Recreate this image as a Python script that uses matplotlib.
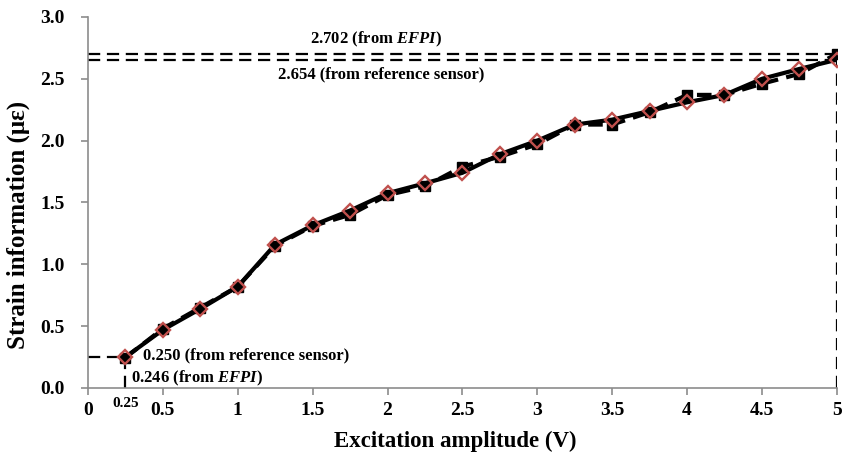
import numpy as np
import matplotlib
matplotlib.use("Agg")
import matplotlib.pyplot as plt

plt.rcParams['font.family'] = ['Liberation Serif', 'DejaVu Serif']
plt.rcParams['font.weight'] = 'bold'
plt.rcParams['mathtext.fontset'] = 'custom'
plt.rcParams['mathtext.rm'] = 'Liberation Serif:bold'
plt.rcParams['mathtext.it'] = 'Liberation Serif:bold:italic'

# excitation amplitude (V)
amplitude = [0.25, 0.5, 0.75, 1.0, 1.25, 1.5, 1.75, 2.0, 2.25, 2.5,
             2.75, 3.0, 3.25, 3.5, 3.75, 4.0, 4.25, 4.5, 4.75, 5.0]
# strain from EFPI (black squares, dashed)
strain_efpi = [0.246, 0.48, 0.65, 0.82, 1.15, 1.31, 1.40, 1.56, 1.63, 1.79,
               1.87, 1.97, 2.13, 2.13, 2.23, 2.37, 2.37, 2.46, 2.54, 2.702]
# strain from reference sensor (red diamonds, solid)
strain_ref = [0.250, 0.47, 0.64, 0.82, 1.16, 1.315, 1.435, 1.575, 1.655, 1.74,
              1.89, 2.00, 2.13, 2.17, 2.24, 2.31, 2.37, 2.50, 2.58, 2.654]

xticks = [0, 0.5, 1, 1.5, 2, 2.5, 3, 3.5, 4, 4.5, 5]
xticklabels = ['0', '0.5', '1', '1.5', '2', '2.5', '3', '3.5', '4', '4.5', '5']
yticks = [0.0, 0.5, 1.0, 1.5, 2.0, 2.5, 3.0]

fig = plt.figure(figsize=(8.5, 4.59), dpi=100)
ax = fig.add_axes([0.1035, 0.1547, 0.881, 0.8083])

grey = '#8c8c8c'
guide = dict(color='black', lw=1.6, dashes=(5.5, 3), zorder=1)

# guide lines for end values
ax.plot([0, 5], [strain_efpi[-1], strain_efpi[-1]], **guide)
ax.plot([0, 5], [strain_ref[-1], strain_ref[-1]], **guide)
ax.plot([5, 5], [0, strain_ref[-1]], **guide)
ax.plot([0, amplitude[0]], [strain_ref[0], strain_ref[0]], **guide)
ax.plot([amplitude[0], amplitude[0]], [0, strain_efpi[0]], **guide)

ax.plot(amplitude, strain_efpi, color='black', lw=3.0, dashes=(3.5, 2),
        marker='s', markersize=6.5, markerfacecolor='black',
        markeredgecolor='black', zorder=3)
ax.plot(amplitude, strain_ref, color='black', lw=3.0, solid_capstyle='round',
        solid_joinstyle='round', marker='D', markersize=7,
        markerfacecolor='none', markeredgecolor='#c0504d',
        markeredgewidth=1.7, zorder=4)

ax.set_xlim(0, 5)
ax.set_ylim(0, 3.0)
ax.set_xticks(xticks)
ax.set_xticklabels(xticklabels)
ax.set_yticks(yticks)
ax.set_yticklabels(['%.1f' % v for v in yticks])
ax.tick_params(axis='both', labelsize=14, colors=grey, labelcolor='black',
               length=5, width=1.2, direction='out')
ax.tick_params(axis='x', pad=5)
ax.tick_params(axis='y', pad=12)
for lab in ax.get_xticklabels() + ax.get_yticklabels():
    lab.set_fontweight('bold')

for side in ['top', 'right']:
    ax.spines[side].set_visible(False)
for side in ['left', 'bottom']:
    ax.spines[side].set_color(grey)
    ax.spines[side].set_linewidth(1.2)

ax.set_xlabel('Excitation amplitude (V)', fontsize=16.5, fontweight='bold')
ax.set_ylabel('Strain information (με)', fontsize=18, fontweight='bold')
ax.xaxis.set_label_coords(0.49, -0.115)
ax.yaxis.set_label_coords(-0.077, 0.44)

# annotations
ax.text(1.92, strain_efpi[-1] + 0.04, r'2.702 (from $EFPI$)', fontsize=12,
        fontweight='bold', ha='center', va='bottom')
ax.text(1.96, strain_ref[-1] - 0.05, '2.654 (from reference sensor)',
        fontsize=12, fontweight='bold', ha='center', va='top')
ax.text(0.37, strain_ref[0] + 0.01, '0.250 (from reference sensor)',
        fontsize=12, fontweight='bold', ha='left', va='center')
ax.text(0.285, strain_efpi[0] - 0.165, r'0.246 (from $EFPI$)', fontsize=12,
        fontweight='bold', ha='left', va='center')
ax.text(amplitude[0], -0.07, '0.25', fontsize=11, fontweight='bold',
        ha='center', va='top')

fig.savefig('out.png', dpi=100)
